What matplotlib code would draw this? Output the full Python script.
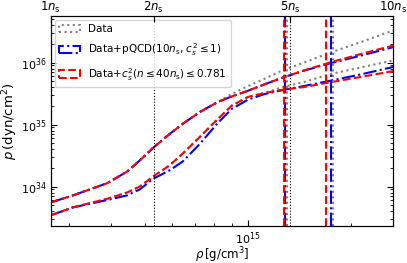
import numpy as np
import matplotlib
matplotlib.use("Agg")
import matplotlib.pyplot as plt
from matplotlib.patches import Patch
from matplotlib.ticker import NullFormatter, NullLocator

# saturation density in g/cm^3
ns = 2.66e14

# density grid in units of n_s
n = [1.0, 1.16, 1.46, 1.67, 1.82, 1.99, 2.23, 2.43, 2.73, 3.08,
     3.38, 3.77, 4.22, 4.77, 5.5, 6.54, 8.0, 10.0]

# pressure bands (dyn/cm^2)
data_hi = [5.55e33, 7.18e33, 1.13e34, 1.74e34, 2.64e34, 4.21e34, 7.12e34, 1.03e35, 1.60e35, 2.32e35,
           3.11e35, 4.18e35, 5.5e35, 7.53e35, 1.0e36, 1.44e36, 2.11e36, 3.29e36]
data_lo = [3.44e33, 4.61e33, 6.33e33, 8.0e33, 1.0e34, 1.45e34, 2.22e34, 3.41e34, 6.38e34, 1.24e35,
           2.02e35, 2.79e35, 3.23e35, 4.03e35, 4.84e35, 6.5e35, 8.26e35, 1.08e36]

pqcd_hi = [5.55e33, 7.18e33, 1.13e34, 1.74e34, 2.64e34, 4.21e34, 7.12e34, 1.03e35, 1.60e35, 2.32e35,
           2.84e35, 3.51e35, 4.47e35, 5.75e35, 7.4e35, 0.97e36, 1.28e36, 1.77e36]
pqcd_lo = [3.44e33, 4.6e33, 6.04e33, 7.2e33, 9.0e33, 1.33e34, 1.84e34, 2.54e34, 4.93e34, 1.07e35,
           1.79e35, 2.52e35, 3.11e35, 3.6e35, 4.18e35, 5.08e35, 6.38e35, 8.47e35]

cs2_hi = [5.55e33, 7.18e33, 1.13e34, 1.74e34, 2.64e34, 4.21e34, 7.12e34, 1.03e35, 1.60e35, 2.32e35,
          2.84e35, 3.51e35, 4.47e35, 5.75e35, 7.48e35, 1.0e36, 1.36e36, 1.88e36]
cs2_lo = [3.44e33, 4.61e33, 6.33e33, 8.0e33, 1.0e34, 1.45e34, 2.22e34, 3.41e34, 6.38e34, 1.24e35,
          2.02e35, 2.79e35, 3.23e35, 3.65e35, 4.03e35, 4.79e35, 5.82e35, 7.26e35]

# vertical markers (units of n_s)
data_vlines = [4.89, 6.68]
pqcd_vlines = [4.82, 6.59]
cs2_vlines = [4.80, 6.39]
ref_vlines = [2.0, 5.0]

top_ticks = [1, 2, 5, 10]

rho = np.array(n) * ns

fig = plt.figure(figsize=(4.07, 2.63), dpi=100)
ax = fig.add_axes([0.125, 0.14, 0.8406, 0.799])

lw = 1.5
ax.plot(rho, data_hi, color="gray", ls=":", lw=lw)
ax.plot(rho, data_lo, color="gray", ls=":", lw=lw)
ax.plot(rho, pqcd_hi, color="b", ls="-.", lw=lw)
ax.plot(rho, pqcd_lo, color="b", ls="-.", lw=lw)
ax.plot(rho, cs2_hi, color="r", ls="--", lw=lw)
ax.plot(rho, cs2_lo, color="r", ls="--", lw=lw)

for v in ref_vlines:
    ax.axvline(v * ns, color="k", ls=":", lw=0.8)
for v in data_vlines:
    ax.axvline(v * ns, color="gray", ls=":", lw=lw)
for v in pqcd_vlines:
    ax.axvline(v * ns, color="b", ls="-.", lw=lw)
for v in cs2_vlines:
    ax.axvline(v * ns, color="r", ls="--", lw=lw)

ax.set_xscale("log")
ax.set_yscale("log")
ax.set_xlim(ns, 10 * ns)
ax.set_ylim(10**33.36, 10**36.75)
ax.xaxis.set_minor_formatter(NullFormatter())
ax.tick_params(which="both", direction="in", right=True, labelsize=8)
ax.tick_params(which="major", length=4, pad=3)
ax.tick_params(which="minor", length=2)

ax.set_xlabel(r"$\rho\,$[g/cm$^3$]", fontsize=8.5, labelpad=-1)
ax.set_ylabel(r"$p\,$(dyn/cm$^2$)", fontsize=9.5, labelpad=1)

top = ax.twiny()
top.set_xscale("log")
top.set_xlim(ax.get_xlim())
top.xaxis.set_minor_locator(NullLocator())
top.set_xticks([k * ns for k in top_ticks])
top.set_xticklabels([r"$%d n_{\rm s}$" % k for k in top_ticks])
top.tick_params(direction="in", length=4, labelsize=8.5, pad=1)

handles = [
    Patch(facecolor="none", edgecolor="gray", ls=":", lw=lw, label="Data"),
    Patch(facecolor="none", edgecolor="b", ls="-.", lw=lw,
          label=r"Data+pQCD(10$n_{\rm s}$, $c_s^2\leq1$)"),
    Patch(facecolor="none", edgecolor="r", ls="--", lw=lw,
          label=r"Data+$c_s^2$($n\leq40n_{\rm s}$)$\leq0.781$"),
]
ax.legend(handles=handles, loc="upper left", fontsize=7.5, borderaxespad=0.4,
          labelspacing=0.7)

fig.savefig("out.png", dpi=100)
